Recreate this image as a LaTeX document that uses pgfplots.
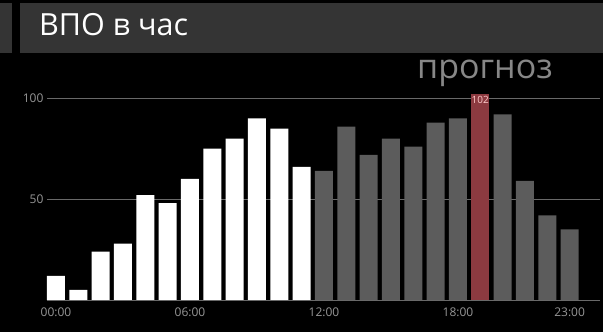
\documentclass[border=0pt]{standalone}
\usepackage{pgfplots}
\pgfplotsset{compat=1.18}
\usepackage{fontspec}
\setmainfont{Open Sans}
\definecolor{bandgray}{RGB}{52,52,52}
\definecolor{bargray}{RGB}{92,92,92}
\definecolor{barred}{RGB}{140,58,64}
\definecolor{gridgray}{RGB}{105,105,105}
\definecolor{ticktext}{RGB}{150,150,150}
\definecolor{progtext}{RGB}{135,135,135}
\begin{document}
\begin{tikzpicture}[x=1pt,y=1pt]
\fill[black] (0,0) rectangle (603,332);
\fill[bandgray] (0,279) rectangle (12,329);
\fill[bandgray] (20,279) rectangle (603,329);
\node[anchor=base west, inner sep=0pt, text=white, font=\fontsize{30.5}{30.5}\selectfont] at (39,296) {ВПО в час};
\node[anchor=base west, inner sep=0pt, text=progtext, font=\fontsize{34}{34}\selectfont] at (417,253) {прогноз};
\begin{axis}[
  at={(47pt,32pt)}, anchor=south west,
  scale only axis, width=553pt, height=201.7pt,
  xmin=-0.403, xmax=24.36, ymin=0, ymax=100,
  clip=false,
  axis line style={draw=none},
  major tick length=0pt,
  ytick={0,50,100}, yticklabels={,50,100},
  xtick={0,6,12,18,23}, xticklabels={00:00,06:00,12:00,18:00,23:00},
  ymajorgrids, grid style={gridgray, line width=0.8pt},
  tick label style={text=ticktext, font=\fontsize{12}{12}\selectfont},
  xticklabel style={yshift=-4pt},
  /pgf/number format/assume math mode=true,
  every axis plot/.append style={ybar, bar width=18pt, bar shift=0pt, draw=none},
]
\addplot[fill=white] coordinates {(0,12) (1,5) (2,24) (3,28) (4,52) (5,48) (6,60) (7,75) (8,80) (9,90) (10,85) (11,66)};
\addplot[fill=bargray] coordinates {(12,64) (13,86) (14,72) (15,80) (16,76) (17,88) (18,90) (20,92) (21,59) (22,42) (23,35)};
\addplot[fill=barred, nodes near coords,
  every node near coord/.append style={anchor=north, text=white!80!red, font=\fontsize{10}{10}\selectfont, inner sep=1.5pt}]
  coordinates {(19,102)};
\end{axis}
\end{tikzpicture}
\end{document}
